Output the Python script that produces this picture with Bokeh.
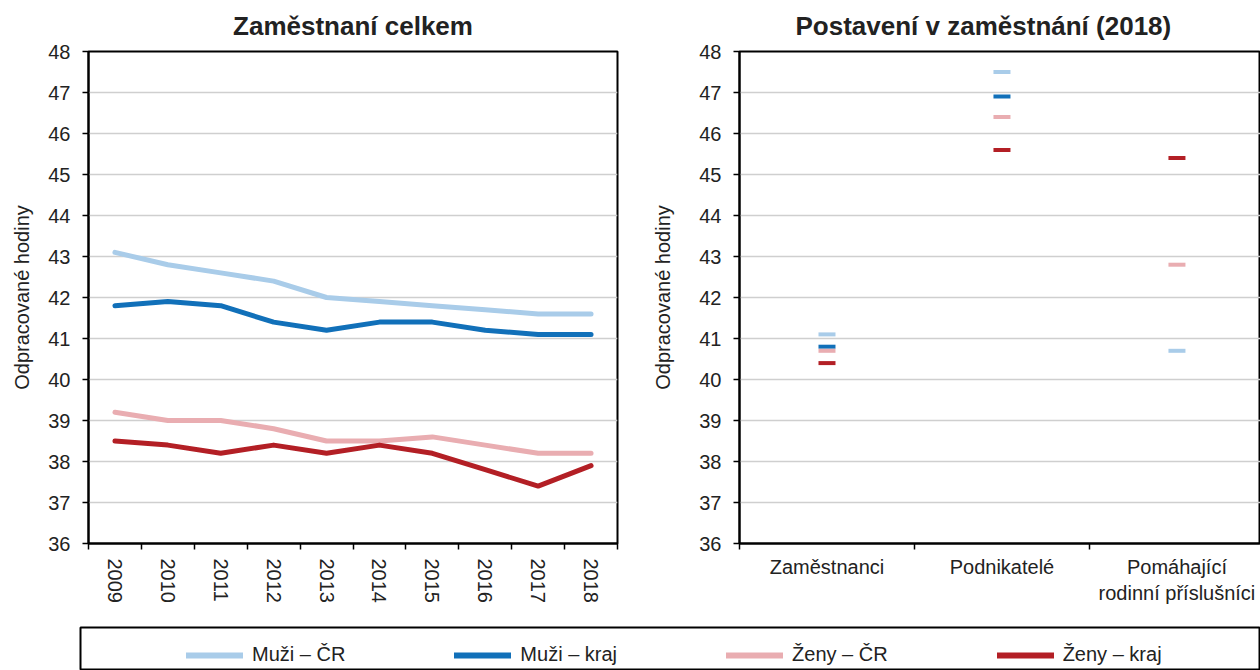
from bokeh.plotting import figure
from bokeh.models import (Range1d, FixedTicker, Legend, LegendItem, ColumnDataSource)
from bokeh.layouts import column, row
from bokeh.embed import file_html
from bokeh.resources import INLINE

# ---- data ----
years = [2009, 2010, 2011, 2012, 2013, 2014, 2015, 2016, 2017, 2018]
muzi_cr = [43.1, 42.8, 42.6, 42.4, 42.0, 41.9, 41.8, 41.7, 41.6, 41.6]
muzi_kraj = [41.8, 41.9, 41.8, 41.4, 41.2, 41.4, 41.4, 41.2, 41.1, 41.1]
zeny_cr = [39.2, 39.0, 39.0, 38.8, 38.5, 38.5, 38.6, 38.4, 38.2, 38.2]
zeny_kraj = [38.5, 38.4, 38.2, 38.4, 38.2, 38.4, 38.2, 37.8, 37.4, 37.9]

categories = ["Zaměstnanci", "Podnikatelé", "Pomáhající\nrodinní příslušníci"]
pos_muzi_cr = [41.1, 47.5, 40.7]
pos_muzi_kraj = [40.8, 46.9, float("nan")]
pos_zeny_cr = [40.7, 46.4, 42.8]
pos_zeny_kraj = [40.4, 45.6, 45.4]

series_names = ["Muži – ČR", "Muži – kraj", "Ženy – ČR", "Ženy – kraj"]
y_ticks = list(range(36, 49))

# ---- style ----
colors = ["#a9cce9", "#1170b9", "#e9adb1", "#b31f25"]
FONT = "Liberation Sans"
TXT = "#222222"
GRID = "#cfcfcf"


def style_common(p, title_text):
    p.title.text = title_text
    p.title.align = "center"
    p.title.vertical_align = "middle"
    p.title.text_font = FONT
    p.title.text_font_size = "26px"
    p.title.text_font_style = "bold"
    p.title.text_color = TXT
    p.title.standoff = 19
    p.outline_line_color = "black"
    p.outline_line_width = 2
    p.background_fill_color = "white"
    p.border_fill_color = "white"
    # y axis
    p.yaxis.ticker = FixedTicker(ticks=y_ticks)
    p.yaxis.axis_label = "Odpracované hodiny"
    p.yaxis.axis_label_text_font = FONT
    p.yaxis.axis_label_text_font_size = "20px"
    p.yaxis.axis_label_text_font_style = "normal"
    p.yaxis.axis_label_text_color = TXT
    p.yaxis.major_label_text_font = FONT
    p.yaxis.major_label_text_font_size = "20px"
    p.yaxis.major_label_text_color = TXT
    p.yaxis.axis_line_color = "black"
    p.yaxis.axis_line_width = 2
    p.yaxis.major_tick_line_color = "black"
    p.yaxis.major_tick_line_width = 1.5
    p.yaxis.major_tick_out = 6
    p.yaxis.major_tick_in = 0
    p.yaxis.minor_tick_line_color = None
    p.yaxis.major_label_standoff = 12
    p.ygrid.grid_line_color = GRID
    p.ygrid.grid_line_width = 1.5
    p.xgrid.grid_line_color = None
    # x axis
    p.xaxis.axis_line_color = "black"
    p.xaxis.axis_line_width = 2
    p.xaxis.major_tick_line_color = None
    p.xaxis.major_tick_out = 0
    p.xaxis.major_tick_in = 0
    p.xaxis.minor_tick_line_color = "black"
    p.xaxis.minor_tick_line_width = 1.5
    p.xaxis.minor_tick_out = 6
    p.xaxis.minor_tick_in = 0
    p.xaxis.major_label_text_font = FONT
    p.xaxis.major_label_text_font_size = "20px"
    p.xaxis.major_label_text_color = TXT


# ---- left chart ----
p1 = figure(width=640, height=620, output_backend="svg", toolbar_location=None,
            x_range=Range1d(years[0] - 0.5, years[-1] + 0.5),
            y_range=Range1d(y_ticks[0], y_ticks[-1]),
            min_border_left=88, min_border_right=23, min_border_top=51, min_border_bottom=77)
style_common(p1, "Zaměstnaní celkem")
p1.xaxis.ticker = FixedTicker(ticks=years, minor_ticks=[y - 0.5 for y in years] + [years[-1] + 0.5])
p1.xaxis.major_label_orientation = "vertical"
p1.xaxis.major_label_standoff = 9
p1.yaxis.axis_label_standoff = 12

src1 = ColumnDataSource(dict(x=years, a=muzi_cr, b=muzi_kraj, c=zeny_cr, d=zeny_kraj))
for key, col in zip(["a", "b", "c", "d"], colors):
    p1.line("x", key, source=src1, line_color=col, line_width=5,
            line_join="round", line_cap="round")

# ---- right chart ----
cat_x = [i + 0.5 for i in range(len(categories))]
p2 = figure(width=620, height=620, output_backend="svg", toolbar_location=None,
            x_range=Range1d(0, len(categories) * 0.9925),
            y_range=Range1d(y_ticks[0], y_ticks[-1]),
            min_border_left=99, min_border_right=0, min_border_top=51, min_border_bottom=77)
style_common(p2, "Postavení v zaměstnání (2018)")
p2.title.align = "left"
p2.title.offset = 56
p2.xaxis.ticker = FixedTicker(ticks=cat_x, minor_ticks=list(range(len(categories) + 1)))
p2.xaxis.major_label_overrides = {x: c for x, c in zip(cat_x, categories)}
p2.xaxis.major_label_standoff = 6
p2.yaxis.axis_label_standoff = 22

src2 = ColumnDataSource(dict(x=cat_x, a=pos_muzi_cr, b=pos_muzi_kraj, c=pos_zeny_cr, d=pos_zeny_kraj))
for key, col in zip(["a", "b", "c", "d"], colors):
    p2.rect("x", key, source=src2, width=17, height=4, width_units="screen",
            height_units="screen", fill_color=col, line_color=None)

# ---- legend strip ----
p3 = figure(width=1260, height=50, output_backend="svg", toolbar_location=None,
            x_axis_type=None, y_axis_type=None,
            x_range=Range1d(0, 1), y_range=Range1d(0, 1),
            min_border_left=80, min_border_right=0, min_border_top=7, min_border_bottom=0)
p3.outline_line_color = "black"
p3.outline_line_width = 2
p3.background_fill_color = "white"
p3.border_fill_color = "white"
items = []
for name, key, col in zip(series_names, ["a", "b", "c", "d"], colors):
    # series drawn outside this strip's ranges; only their legend glyphs show
    r = p3.line("x", key, source=src1, line_color=col, line_width=6, line_cap="round")
    items.append(LegendItem(label=name, renderers=[r]))
leg = Legend(items=items, orientation="horizontal", location=(106, 4),
             border_line_color=None, background_fill_alpha=0, padding=0, margin=0,
             spacing=109, glyph_width=57, glyph_height=20, label_standoff=9,
             label_height=20, label_text_font=FONT, label_text_font_size="20px",
             label_text_color=TXT)
p3.add_layout(leg, "center")

layout = column(row(p1, p2), p3)
open("out.html", "w").write(file_html(layout, INLINE))
